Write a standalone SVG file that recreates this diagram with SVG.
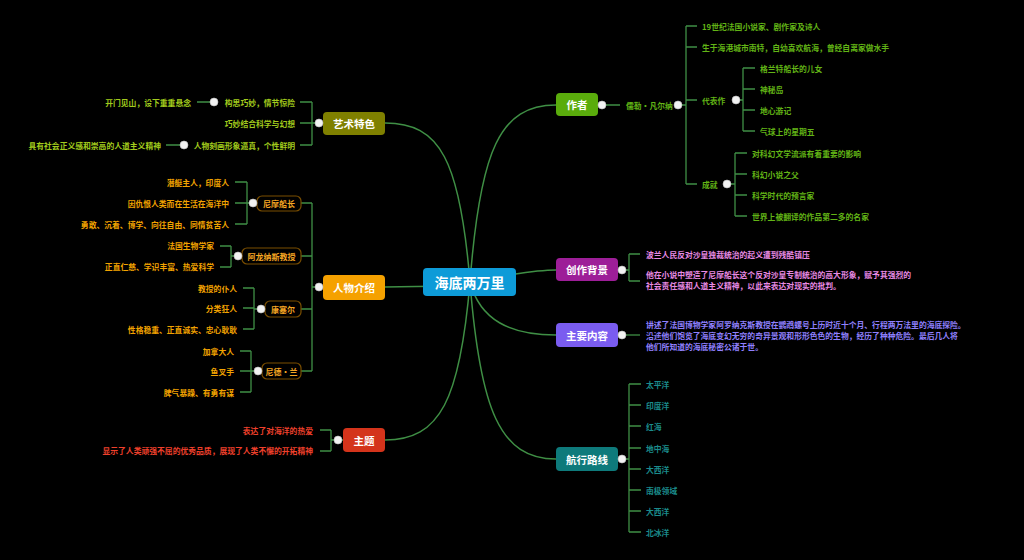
<svg xmlns="http://www.w3.org/2000/svg" width="1024" height="560" viewBox="0 0 1024 560">
<style>
.ln{fill:none;stroke:#3f8f45;stroke-width:1.3}
.mln{fill:none;stroke:#3f8f45;stroke-width:1.5}
.dot{fill:#f2f2f2;stroke:#bdbdbd;stroke-width:0.6}
text{font-family:"Noto Sans CJK SC","Noto Sans",sans-serif;dominant-baseline:central}
.t{font-size:7.8px;font-weight:bold}
.main{font-size:10.5px;font-weight:bold;fill:#fff;text-anchor:middle}
.sub{font-size:8px;font-weight:bold;fill:#f5a623;text-anchor:middle}
.subbox{fill:#000;stroke:#7a4e00;stroke-width:1.2}
.r{text-anchor:end}
.au{fill:#62b416}
.art{fill:#a2cb1d}
.ch{fill:#f2a300}
.th{fill:#f0402c}
.bg{fill:#e88ae4}
.ct{fill:#9080ff}
.rt{fill:#1b8c8c}
</style>
<rect width="1024" height="560" fill="#000"/>
<g id="connectors">
<path class="mln" d="M470,282 C480,150 500,105 556,105"/>
<path class="mln" d="M470,282 C460,160 440,123 385,123"/>
<path class="mln" d="M470,285 C440,286 420,287 385,287"/>
<path class="mln" d="M470,282 C460,400 440,440 385,440"/>
<path class="mln" d="M470,280 C510,276 530,270 556,270"/>
<path class="mln" d="M470,282 C480,320 510,335 556,335"/>
<path class="mln" d="M470,282 C480,410 500,459 556,459"/>
<path class="ln" d="M598,105 H620 M678,105 H686 M686,26 V184 M686,26 H697 M686,47 H697 M686,100 H697 M686,184 H697"/>
<path class="ln" d="M736,100 H743 M743,68 V131 M743,68 H755 M743,89 H755 M743,110 H755 M743,131 H755"/>
<path class="ln" d="M727,184 H735 M735,153 V216 M735,153 H747 M735,174 H747 M735,195 H747 M735,216 H747"/>
<path class="ln" d="M618,270 H629 M629,254 V281 M629,254 H640 M629,281 H640"/>
<path class="ln" d="M618,335 H640"/>
<path class="ln" d="M618,459 H629 M629,384 V532 M629,384 H641 M629,405 H641 M629,426 H641 M629,448 H641 M629,469 H641 M629,490 H641 M629,511 H641 M629,532 H641"/>
<path class="ln" d="M323,123 H312 M312,102 V145 M312,102 H300 M312,123 H300 M312,145 H300 M214,102 H197 M184,145 H166"/>
<path class="ln" d="M323,287 H312 M312,203 V371 M312,203 H301 M312,256 H301 M312,309 H301 M312,371 H301"/>
<path class="ln" d="M257,203 H247 M247,182 V224 M247,182 H235 M247,203 H235 M247,224 H235"/>
<path class="ln" d="M242,256 H231 M231,246 V267 M231,246 H220 M231,267 H220"/>
<path class="ln" d="M265,309 H254 M254,288 V329 M254,288 H243 M254,308 H243 M254,329 H243"/>
<path class="ln" d="M262,371 H251 M251,351 V392 M251,351 H240 M251,371 H240 M251,392 H240"/>
<path class="ln" d="M343,440 H331 M331,430 V451 M331,430 H320 M331,451 H320"/>
</g>
<g id="center">
<rect x="423" y="268" width="93" height="28" rx="4" fill="#0d9bd8"/>
<text x="469.5" y="282" class="main" style="font-size:14px">海底两万里</text>
</g>
<g id="author">
<rect x="556" y="93" width="42" height="23" rx="4" fill="#5aac0c"/>
<text x="577" y="104.5" class="main">作者</text>
<circle class="dot" cx="602" cy="105" r="4"/>
<text x="626" y="105" class="t au">儒勒•凡尔纳</text>
<circle class="dot" cx="678" cy="105" r="4"/>
<text x="702" y="26" class="t au">19世纪法国小说家、剧作家及诗人</text>
<text x="702" y="47" class="t au">生于海港城市南特，自幼喜欢航海，曾经自离家做水手</text>
<text x="702" y="100" class="t au">代表作</text>
<circle class="dot" cx="736" cy="100" r="4"/>
<text x="760" y="68" class="t au">格兰特船长的儿女</text>
<text x="760" y="89" class="t au">神秘岛</text>
<text x="760" y="110" class="t au">地心游记</text>
<text x="760" y="131" class="t au">气球上的星期五</text>
<text x="702" y="184" class="t au">成就</text>
<circle class="dot" cx="727" cy="184" r="4"/>
<text x="752" y="153" class="t au">对科幻文学流派有着重要的影响</text>
<text x="752" y="174" class="t au">科幻小说之父</text>
<text x="752" y="195" class="t au">科学时代的预言家</text>
<text x="752" y="216" class="t au">世界上被翻译的作品第二多的名家</text>
</g>
<g id="background">
<rect x="556" y="258" width="62" height="23" rx="4" fill="#9d1e98"/>
<text x="587" y="269.5" class="main">创作背景</text>
<circle class="dot" cx="622" cy="270" r="4"/>
<text x="646" y="254" class="t bg">波兰人民反对沙皇独裁统治的起义遭到残酷镇压</text>
<text x="646" y="274" class="t bg">他在小说中塑造了尼摩船长这个反对沙皇专制统治的高大形象，赋予其强烈的</text>
<text x="646" y="285" class="t bg">社会责任感和人道主义精神，以此来表达对现实的批判。</text>
</g>
<g id="content">
<rect x="556" y="323" width="62" height="24" rx="4" fill="#7a5cf0"/>
<text x="587" y="335" class="main">主要内容</text>
<circle class="dot" cx="622" cy="335" r="4"/>
<text x="646" y="324" class="t ct">讲述了法国博物学家阿罗纳克斯教授在鹦鹉螺号上历时近十个月、行程两万法里的海底探险。</text>
<text x="646" y="335" class="t ct">沿途他们饱览了海底变幻无穷的奇异景观和形形色色的生物，经历了种种危险。最后几人将</text>
<text x="646" y="346" class="t ct">他们所知道的海底秘密公诸于世。</text>
</g>
<g id="route">
<rect x="556" y="447" width="62" height="24" rx="4" fill="#0e7a7b"/>
<text x="587" y="459" class="main">航行路线</text>
<circle class="dot" cx="622" cy="459" r="4"/>
<text x="646" y="384" class="t rt">太平洋</text>
<text x="646" y="405" class="t rt">印度洋</text>
<text x="646" y="426" class="t rt">红海</text>
<text x="646" y="448" class="t rt">地中海</text>
<text x="646" y="469" class="t rt">大西洋</text>
<text x="646" y="490" class="t rt">南极领域</text>
<text x="646" y="511" class="t rt">大西洋</text>
<text x="646" y="532" class="t rt">北冰洋</text>
</g>
<g id="art">
<rect x="323" y="112" width="62" height="23" rx="4" fill="#7f8000"/>
<text x="354" y="123.5" class="main">艺术特色</text>
<circle class="dot" cx="319" cy="123" r="4"/>
<text x="295" y="102" class="t art r">构思巧妙，情节惊险</text>
<circle class="dot" cx="214" cy="102" r="4"/>
<text x="191" y="102" class="t art r">开门见山，设下重重悬念</text>
<text x="295" y="123" class="t art r">巧妙结合科学与幻想</text>
<text x="295" y="145" class="t art r">人物刻画形象逼真，个性鲜明</text>
<circle class="dot" cx="184" cy="145" r="4"/>
<text x="161" y="145" class="t art r">具有社会正义感和崇高的人道主义精神</text>
</g>
<g id="characters">
<rect x="323" y="275" width="62" height="25" rx="4" fill="#f5a100"/>
<text x="354" y="287.5" class="main">人物介绍</text>
<circle class="dot" cx="319" cy="287" r="4"/>
<g id="nemo">
<rect class="subbox" x="257" y="196" width="44" height="15" rx="5"/>
<text x="279" y="203.5" class="sub">尼摩船长</text>
<circle class="dot" cx="253" cy="203" r="4"/>
<text x="229" y="182" class="t ch r">潜艇主人，印度人</text>
<text x="229" y="203" class="t ch r">因仇恨人类而在生活在海洋中</text>
<text x="229" y="224" class="t ch r">勇敢、沉着、博学、向往自由、同情贫苦人</text>
</g>
<g id="aronnax">
<rect class="subbox" x="242" y="248" width="59" height="16" rx="5"/>
<text x="271.5" y="256" class="sub">阿龙纳斯教授</text>
<circle class="dot" cx="238" cy="256" r="4"/>
<text x="214" y="245" class="t ch r">法国生物学家</text>
<text x="214" y="266" class="t ch r">正直仁慈、学识丰富、热爱科学</text>
</g>
<g id="conseil">
<rect class="subbox" x="265" y="301" width="36" height="16" rx="5"/>
<text x="283" y="309" class="sub">康塞尔</text>
<circle class="dot" cx="261" cy="309" r="4"/>
<text x="237" y="288" class="t ch r">教授的仆人</text>
<text x="237" y="308" class="t ch r">分类狂人</text>
<text x="237" y="329" class="t ch r">性格稳重、正直诚实、忠心耿耿</text>
</g>
<g id="nedland">
<rect class="subbox" x="262" y="363" width="39" height="16" rx="5"/>
<text x="281.5" y="371" class="sub">尼德•兰</text>
<circle class="dot" cx="258" cy="371" r="4"/>
<text x="234" y="351" class="t ch r">加拿大人</text>
<text x="234" y="371" class="t ch r">鱼叉手</text>
<text x="234" y="392" class="t ch r">脾气暴躁、有勇有谋</text>
</g>
</g>
<g id="theme">
<rect x="343" y="428" width="42" height="24" rx="4" fill="#d4341b"/>
<text x="364" y="440" class="main">主题</text>
<circle class="dot" cx="338" cy="440" r="4"/>
<text x="313" y="430" class="t th r">表达了对海洋的热爱</text>
<text x="313" y="450" class="t th r">显示了人类顽强不屈的优秀品质，展现了人类不懈的开拓精神</text>
</g>
</svg>
